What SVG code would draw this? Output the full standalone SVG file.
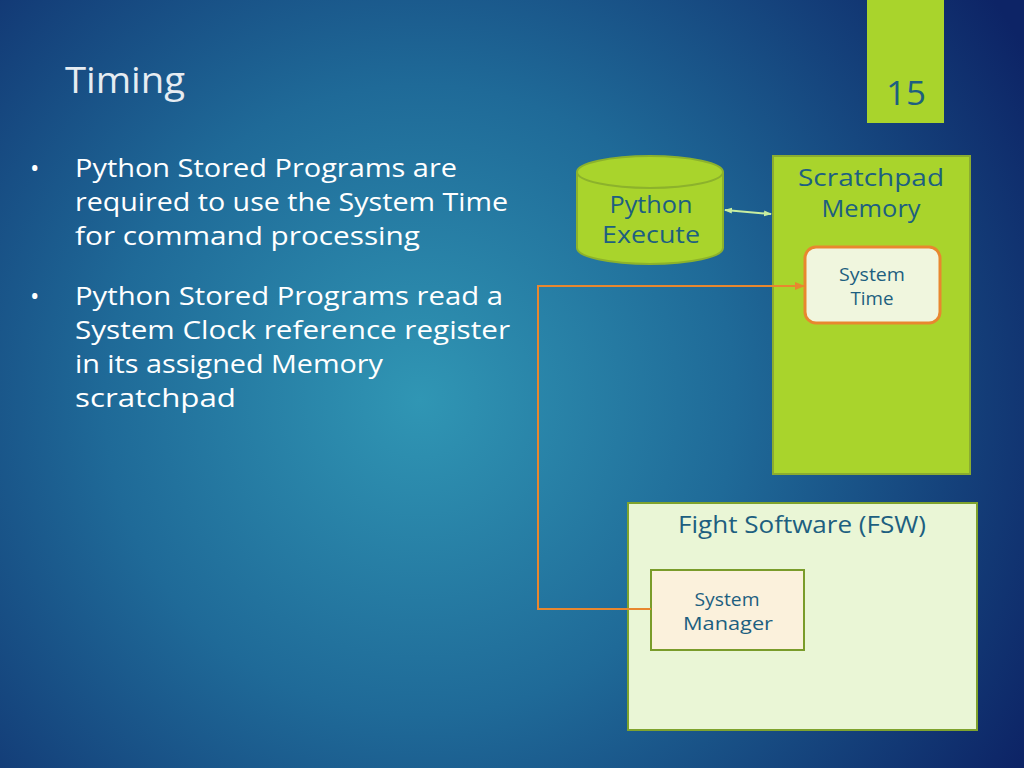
<svg xmlns="http://www.w3.org/2000/svg" width="1024" height="768" viewBox="0 0 1024 768">
<defs>
<radialGradient id="bg" cx="420" cy="400" r="700" gradientUnits="userSpaceOnUse">
<stop offset="0" stop-color="#3096b4"/>
<stop offset="0.45" stop-color="#1f6a98"/>
<stop offset="1" stop-color="#0d2466"/>
</radialGradient>
<marker id="oa" markerWidth="10" markerHeight="10" refX="9" refY="5" orient="auto" markerUnits="userSpaceOnUse">
<path d="M0,1 L10,5 L0,9 Z" fill="#e8872f"/>
</marker>
<marker id="ga" markerWidth="8" markerHeight="8" refX="7" refY="4" orient="auto-start-reverse" markerUnits="userSpaceOnUse">
<path d="M0,1 L8,4 L0,7 Z" fill="#c8eea0"/>
</marker>
<style>
.t{font-family:"Open Sans","Liberation Sans",sans-serif}
.bul{font-size:25px;fill:#ffffff}
.lbl{fill:#1d5f80;text-anchor:middle}
</style>
</defs>
<rect width="1024" height="768" fill="url(#bg)"/>
<g id="page-number">
<rect x="867" y="0" width="77" height="123" fill="#a9d42c"/>
<text class="t lbl" x="906" y="105" font-size="32" textLength="40" lengthAdjust="spacingAndGlyphs">15</text>
</g>
<text class="t" x="65" y="93" font-size="36" fill="#e6ecf2" textLength="120" lengthAdjust="spacingAndGlyphs">Timing</text>
<g id="bullets" class="t bul">
<text x="30" y="177">•</text>
<text x="75" y="177" textLength="382" lengthAdjust="spacingAndGlyphs">Python Stored Programs are</text>
<text x="75" y="211" textLength="433" lengthAdjust="spacingAndGlyphs">required to use the System Time</text>
<text x="75" y="245" textLength="345" lengthAdjust="spacingAndGlyphs">for command processing</text>
<text x="30" y="305">•</text>
<text x="75" y="305" textLength="428" lengthAdjust="spacingAndGlyphs">Python Stored Programs read a</text>
<text x="75" y="339" textLength="435" lengthAdjust="spacingAndGlyphs">System Clock reference register</text>
<text x="75" y="373" textLength="308" lengthAdjust="spacingAndGlyphs">in its assigned Memory</text>
<text x="75" y="407" textLength="161" lengthAdjust="spacingAndGlyphs">scratchpad</text>
</g>
<g id="python-execute">
<path d="M577,172 L577,248 A73,16 0 0 0 723,248 L723,172" fill="#a9d42c" stroke="#8cb22c" stroke-width="2"/>
<ellipse cx="650" cy="172" rx="73" ry="16" fill="#a9d42c" stroke="#8cb22c" stroke-width="2"/>
<text class="t lbl" x="651" y="213" font-size="23" textLength="83" lengthAdjust="spacingAndGlyphs">Python</text>
<text class="t lbl" x="651" y="243" font-size="23" textLength="98" lengthAdjust="spacingAndGlyphs">Execute</text>
</g>
<g id="scratchpad-memory">
<rect x="773" y="156" width="197" height="318" fill="#a9d42c" stroke="#8aac30" stroke-width="2"/>
<text class="t lbl" x="871" y="186" font-size="23" textLength="146" lengthAdjust="spacingAndGlyphs">Scratchpad</text>
<text class="t lbl" x="871" y="217" font-size="23" textLength="99" lengthAdjust="spacingAndGlyphs">Memory</text>
</g>
<g id="system-time">
<rect x="805" y="247" width="135" height="76" rx="11" fill="#f0f6de" stroke="#e8872f" stroke-width="3"/>
<text class="t lbl" x="872" y="281" font-size="18" textLength="66" lengthAdjust="spacingAndGlyphs">System</text>
<text class="t lbl" x="872" y="305" font-size="18" textLength="43" lengthAdjust="spacingAndGlyphs">Time</text>
</g>
<g id="fsw">
<rect x="628" y="503" width="349" height="227" fill="#eaf6d6" stroke="#7fa32e" stroke-width="2"/>
<text class="t lbl" x="802" y="533" font-size="23" textLength="248" lengthAdjust="spacingAndGlyphs">Fight Software (FSW)</text>
</g>
<g id="system-manager">
<rect x="651" y="570" width="153" height="80" fill="#fbf1dc" stroke="#7a9c2a" stroke-width="2"/>
<text class="t lbl" x="727" y="606" font-size="19" textLength="65" lengthAdjust="spacingAndGlyphs">System</text>
<text class="t lbl" x="728" y="630" font-size="19" textLength="90" lengthAdjust="spacingAndGlyphs">Manager</text>
</g>
<g id="connectors" fill="none">
<polyline points="651,609 538,609 538,286 804,286" stroke="#e8872f" stroke-width="2" marker-end="url(#oa)"/>
<line x1="725" y1="210" x2="771" y2="214" stroke="#c8eea0" stroke-width="2" marker-start="url(#ga)" marker-end="url(#ga)"/>
</g>
</svg>
